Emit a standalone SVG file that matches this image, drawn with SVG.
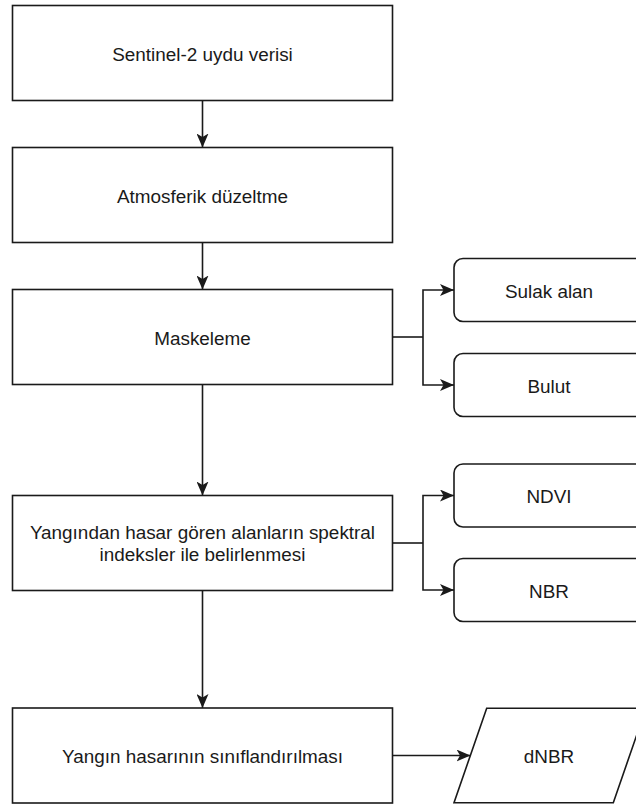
<svg xmlns="http://www.w3.org/2000/svg" width="636" height="805" viewBox="0 0 636 805">
<defs>
<style>
.box{fill:#fff;stroke:#1a1a1a;stroke-width:1.6}
.lbl{font-family:"Liberation Sans",Arial,Helvetica,sans-serif;font-size:18.9px;fill:#1a1a1a;text-anchor:middle}
.edge{fill:none;stroke:#1a1a1a;stroke-width:1.6}
.arr{marker-end:url(#ah)}
</style>
<marker id="ah" markerUnits="userSpaceOnUse" markerWidth="15" markerHeight="12" refX="14" refY="6" orient="auto" viewBox="0 0 15 12">
<path d="M0,0 L14,6 L0,12 L3.5,6 Z" fill="#1a1a1a"/>
</marker>
</defs>
<rect width="636" height="805" fill="#fff"/>
<g id="connectors">
<path class="edge arr" d="M202.5,100.5 L202.5,147.5"/>
<path class="edge arr" d="M202.5,242.5 L202.5,289.5"/>
<path class="edge arr" d="M202.5,384.5 L202.5,495.5"/>
<path class="edge arr" d="M202.5,590.5 L202.5,708"/>
<path class="edge" d="M392.5,337 L423,337"/>
<path class="edge arr" d="M423,337 L423,290 L454,290"/>
<path class="edge arr" d="M423,337 L423,385 L454,385"/>
<path class="edge" d="M392.5,543 L423,543"/>
<path class="edge arr" d="M423,543 L423,495.5 L454,495.5"/>
<path class="edge arr" d="M423,543 L423,590 L454,590"/>
<path class="edge arr" d="M392.5,755.5 L470.5,755.5"/>
</g>
<g id="n1"><rect class="box" x="12.5" y="5.5" width="380" height="95"/><text class="lbl" x="202.5" y="60.5">Sentinel-2 uydu verisi</text></g>
<g id="n2"><rect class="box" x="12.5" y="147.5" width="380" height="95"/><text class="lbl" x="202.5" y="202.5">Atmosferik düzeltme</text></g>
<g id="n3"><rect class="box" x="12.5" y="289.5" width="380" height="95"/><text class="lbl" x="202.5" y="344.5">Maskeleme</text></g>
<g id="n4"><rect class="box" x="12.5" y="495.5" width="380" height="95"/><text class="lbl" x="202.5" y="538.5">Yangından hasar gören alanların spektral</text><text class="lbl" x="202.5" y="560.5">indeksler ile belirlenmesi</text></g>
<g id="n5"><rect class="box" x="12.5" y="708" width="380" height="95"/><text class="lbl" x="202.5" y="763">Yangın hasarının sınıflandırılması</text></g>
<g id="n6"><rect class="box" x="454" y="258.5" width="190" height="63" rx="9" ry="9"/><text class="lbl" x="549" y="297.5">Sulak alan</text></g>
<g id="n7"><rect class="box" x="454" y="353.5" width="190" height="63" rx="9" ry="9"/><text class="lbl" x="549" y="392.5">Bulut</text></g>
<g id="n8"><rect class="box" x="454" y="464" width="190" height="63" rx="9" ry="9"/><text class="lbl" x="549" y="503">NDVI</text></g>
<g id="n9"><rect class="box" x="454" y="558.5" width="190" height="63" rx="9" ry="9"/><text class="lbl" x="549" y="597.5">NBR</text></g>
<g id="n10"><polygon class="box" points="486.7,708.3 646,708.3 613.3,802.7 454,802.7"/><text class="lbl" x="549" y="763">dNBR</text></g>
</svg>
